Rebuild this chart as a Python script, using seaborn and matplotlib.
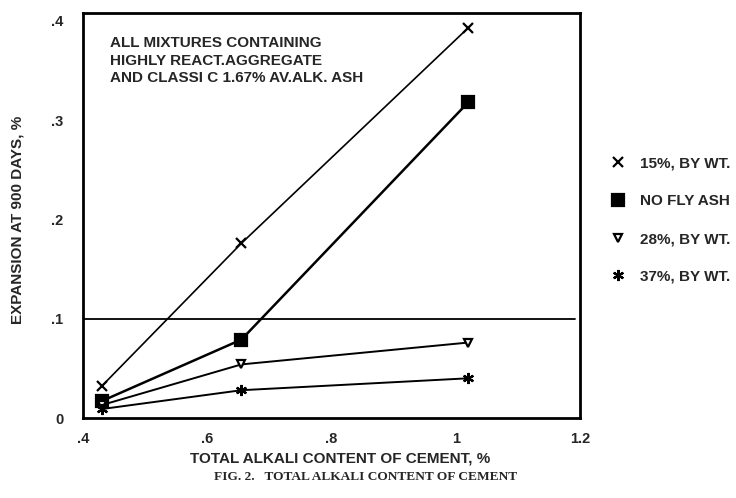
import matplotlib
matplotlib.use("Agg")
import matplotlib.pyplot as plt
from matplotlib.lines import Line2D
import seaborn as sns
import pandas as pd

# data
alkali = [0.43, 0.655, 1.02]
fly15 = [0.032, 0.176, 0.393]
nofly = [0.017, 0.079, 0.318]
fly28 = [0.013, 0.054, 0.076]
fly37 = [0.009, 0.028, 0.040]

labels = ["15%, BY WT.", "NO FLY ASH", "28%, BY WT.", "37%, BY WT."]
xticks = [0.4, 0.6, 0.8, 1.0, 1.2]
xticklabels = [".4", ".6", ".8", "1", "1.2"]
yticks = [0, 0.1, 0.2, 0.3, 0.4]
yticklabels = ["0", ".1", ".2", ".3", ".4"]
limit = 0.1

sns.set_style("white")
plt.rcParams['font.family'] = ['Liberation Sans', 'DejaVu Sans']

fig = plt.figure(figsize=(7.36, 4.98), dpi=100)
ax = fig.add_axes([83/736, 1-418/498, (580-83)/736, (418-13)/498])

series = [fly15, nofly, fly28, fly37]
marks = ['x', 's', 'v', (6, 2, 0)]
msize = [7, 8, 6, 8]
lw = [1.2, 1.8, 1.4, 1.4]
faces = ['k', 'k', 'white', 'k']

for vals, lab, m, ms, w, fc in zip(series, labels, marks, msize, lw, faces):
    d = pd.DataFrame({"x": alkali, "y": vals})
    sns.lineplot(data=d, x="x", y="y", ax=ax, color='k', marker=m,
                 markersize=ms, linewidth=w, markerfacecolor=fc,
                 markeredgecolor='k', markeredgewidth=1.6, legend=False)

ax.axhline(limit, xmin=0, xmax=0.99, color='k', lw=1.3)

ax.set_xlim(0.4, 1.2)
ax.set_ylim(0, 0.408)
ax.set_xticks(xticks)
ax.set_xticklabels(xticklabels, fontweight='bold', fontsize=10.5)
ax.set_yticks(yticks)
ax.set_yticklabels(yticklabels, fontweight='bold', fontsize=10.5)
ax.tick_params(direction='in', length=5, width=1.5, color='k')
ax.tick_params(axis='x', pad=10)
ax.tick_params(axis='y', pad=14)
for s in ax.spines.values():
    s.set_linewidth(2)
    s.set_color('k')

ax.set_xlabel("TOTAL ALKALI CONTENT OF CEMENT, %", fontsize=11, fontweight='bold')
ax.set_ylabel("EXPANSION AT 900 DAYS, %", fontsize=11, fontweight='bold')
ax.xaxis.set_label_coords((340-83)/497, (418-458)/405)
ax.xaxis.label.set_va('center')
ax.yaxis.set_label_coords((18-83)/497, 0.49)
ax.yaxis.label.set_va('center')

ax.text(0.054, 0.943, "ALL MIXTURES CONTAINING\nHIGHLY REACT.AGGREGATE\nAND CLASSI C 1.67% AV.ALK. ASH",
        transform=ax.transAxes, va='top', ha='left', fontsize=11,
        fontweight='bold', linespacing=1.33)

handles = [Line2D([], [], color='k', linestyle='none', marker=m, markersize=ms,
                  markerfacecolor=fc, markeredgecolor='k', markeredgewidth=1.6)
           for m, ms, fc in zip(marks, msize, faces)]
leg = fig.legend(handles, labels, loc='upper left', bbox_to_anchor=(597/736, 1-143/498),
                 frameon=False, handlelength=1.0, handletextpad=0.9, labelspacing=1.55,
                 prop={'size': 11, 'weight': 'bold'})

fig.text(366/736, 1-477/498, "FIG. 2.   TOTAL ALKALI CONTENT OF CEMENT",
         ha='center', va='center', fontsize=9.6, fontweight='bold',
         family=['Liberation Serif', 'DejaVu Serif'])

fig.savefig("out.png", dpi=100)
